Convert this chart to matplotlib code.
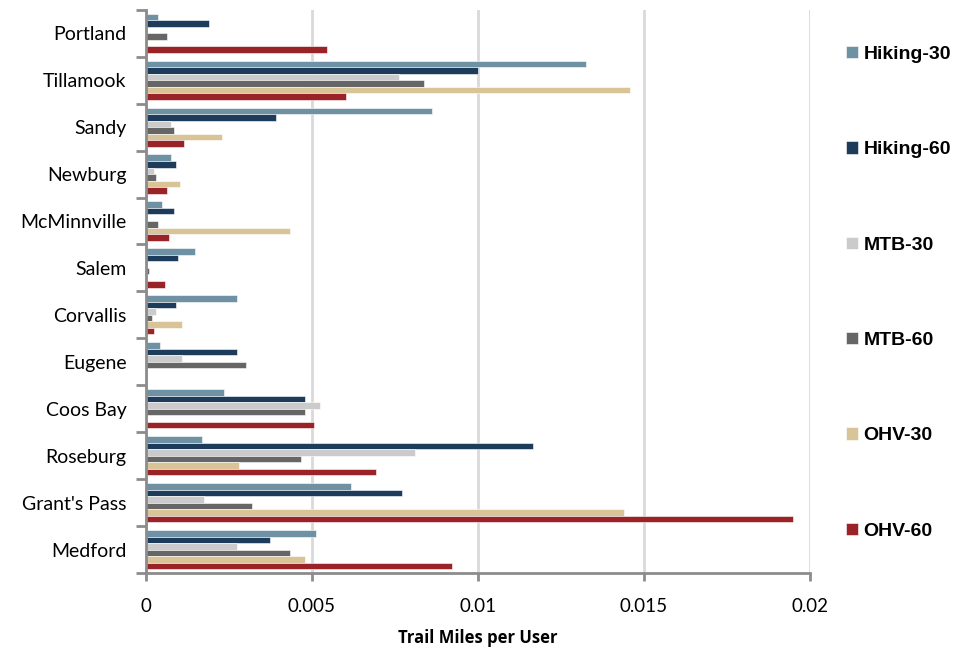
import numpy as np
import matplotlib
matplotlib.use("Agg")
import matplotlib.pyplot as plt

# Trail miles per user by city, for each activity / drive-time band
cities = ["Portland", "Tillamook", "Sandy", "Newburg", "McMinnville", "Salem",
          "Corvallis", "Eugene", "Coos Bay", "Roseburg", "Grant's Pass", "Medford"]

hiking_30 = [0.00036, 0.01325, 0.00862, 0.00076, 0.00049, 0.00149,
             0.00274, 0.00043, 0.00234, 0.00168, 0.00619, 0.00513]
hiking_60 = [0.00189, 0.01000, 0.00393, 0.00089, 0.00083, 0.00096,
             0.00089, 0.00274, 0.00480, 0.01167, 0.00771, 0.00373]
mtb_30 = [0.00004, 0.00763, 0.00076, 0.00024, 0.00000, 0.00000,
          0.00029, 0.00109, 0.00525, 0.00810, 0.00175, 0.00275]
mtb_60 = [0.00063, 0.00836, 0.00083, 0.00030, 0.00036, 0.00010,
          0.00017, 0.00301, 0.00480, 0.00467, 0.00320, 0.00433]
ohv_30 = [0.00000, 0.01457, 0.00228, 0.00102, 0.00433, 0.00003,
          0.00109, 0.00000, 0.00000, 0.00280, 0.01439, 0.00480]
ohv_60 = [0.00546, 0.00604, 0.00115, 0.00063, 0.00070, 0.00056,
          0.00023, 0.00004, 0.00506, 0.00692, 0.01949, 0.00923]

series = [
    ("Hiking-30", hiking_30, "#6E91A3"),
    ("Hiking-60", hiking_60, "#1D3B5B"),
    ("MTB-30", mtb_30, "#CBCBCB"),
    ("MTB-60", mtb_60, "#666666"),
    ("OHV-30", ohv_30, "#D8C496"),
    ("OHV-60", ohv_60, "#9A2328"),
]

fig = plt.figure(figsize=(9.56, 6.48), dpi=100)
ax = fig.add_axes([0.1527, 0.1155, 0.6945, 0.8695])

n = len(series)
bar_h = 0.139
y = np.arange(len(cities))
for i, (name, vals, color) in enumerate(series):
    offset = (i - (n - 1) / 2) * bar_h
    ax.barh(y + offset, vals, height=bar_h, color=color, label=name,
            edgecolor="white", linewidth=0.4)

ax.set_ylim(len(cities) - 0.5, -0.5)
ax.set_xlim(0, 0.02)
ax.set_xticks([0, 0.005, 0.01, 0.015, 0.02])
ax.set_xticklabels(["0", "0.005", "0.01", "0.015", "0.02"], fontsize=13.5,
                   family="Lato")

# category labels sit between the boundary tick marks
ax.set_yticks(y)
ax.set_yticklabels(cities, fontsize=14, family="Lato")
ax.tick_params(axis="y", length=0, pad=14)
ax.set_yticks(np.arange(-0.5, len(cities), 1), minor=True)
ax.tick_params(axis="y", which="minor", length=7, width=2, color="#8C8C8C")
ax.tick_params(axis="x", length=6, width=2, color="#8C8C8C", pad=12)

ax.grid(axis="x", color="#D9D9D9", linewidth=2)
ax.set_axisbelow(True)
for side in ["top", "right"]:
    ax.spines[side].set_visible(False)
for side in ["left", "bottom"]:
    ax.spines[side].set_color("#8C8C8C")
    ax.spines[side].set_linewidth(2)

ax.set_xlabel("Trail Miles per User", fontsize=12, fontweight="bold",
              family="Open Sans", labelpad=10)

leg = ax.legend(loc="center left", bbox_to_anchor=(846 / 956, 0.548),
                bbox_transform=fig.transFigure, frameon=False,
                prop={"family": "Liberation Sans", "weight": "bold", "size": 14},
                labelspacing=4.03, handlelength=0.6, handleheight=0.6,
                handletextpad=0.3, borderaxespad=0, borderpad=0)

fig.savefig("out.png", dpi=100)
